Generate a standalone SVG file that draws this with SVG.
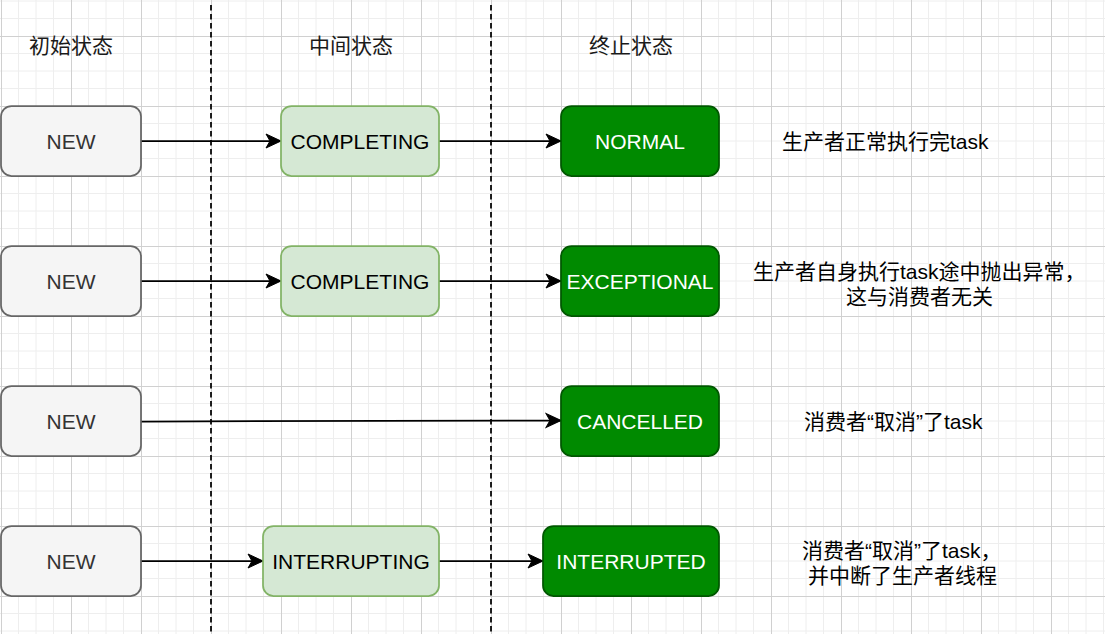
<svg xmlns="http://www.w3.org/2000/svg" width="1105" height="634" viewBox="0 0 1105 634">
  <style>
    text { font-family: "Liberation Sans", "Noto Sans CJK SC", sans-serif; font-size: 21px; }
    .new rect { fill: #f5f5f5; stroke: #666666; stroke-width: 1.75; }
    .new text { fill: #333333; text-anchor: middle; }
    .mid rect { fill: #d5e8d4; stroke: #82b366; stroke-width: 1.75; }
    .mid text { fill: #000000; text-anchor: middle; }
    .end rect { fill: #008a00; stroke: #005700; stroke-width: 1.75; }
    .end text { fill: #ffffff; text-anchor: middle; }
    .lbl { fill: #000000; }
    .hdr { fill: #1a1a1a; text-anchor: middle; }
    .edge { stroke: #000000; stroke-width: 1.75; fill: none; marker-end: url(#arrow); }
    .sep { stroke: #000000; stroke-width: 1.75; stroke-dasharray: 5.5 3.5; fill: none; }
  </style>
  <defs>
    <pattern id="grid" x="1" y="36" width="70" height="70" patternUnits="userSpaceOnUse">
      <path d="M17.5 0V70M35 0V70M52.5 0V70M0 17.5H70M0 35H70M0 52.5H70" stroke="#eeeeee" stroke-width="1" fill="none"/>
      <path d="M0.5 0V70M0 0.5H70" stroke="#d0d0d0" stroke-width="1" fill="none"/>
    </pattern>
    <marker id="arrow" markerUnits="userSpaceOnUse" markerWidth="20" markerHeight="20" refX="16" refY="8" orient="auto" viewBox="0 0 20 16">
      <path d="M16 8 L1 1 L5 8 L1 15 Z" fill="#000000" stroke="#000000" stroke-width="1"/>
    </marker>
  </defs>
  <rect x="0" y="0" width="1105" height="634" fill="#ffffff"/>
  <rect x="0" y="0" width="1105" height="634" fill="url(#grid)"/>

  <g id="separators">
    <line class="sep" x1="211" y1="5" x2="211" y2="634"/>
    <line class="sep" x1="491" y1="5" x2="491" y2="634"/>
  </g>

  <g id="headers">
    <text class="hdr" x="71" y="53">初始状态</text>
    <text class="hdr" x="351" y="53">中间状态</text>
    <text class="hdr" x="631" y="53">终止状态</text>
  </g>

  <g id="connectors">
    <line class="edge" x1="141" y1="141" x2="281" y2="141"/>
    <line class="edge" x1="439" y1="141" x2="561" y2="141"/>
    <line class="edge" x1="141" y1="281" x2="281" y2="281"/>
    <line class="edge" x1="439" y1="281" x2="561" y2="281"/>
    <line class="edge" x1="141" y1="421.5" x2="561" y2="420.5"/>
    <line class="edge" x1="141" y1="561" x2="263" y2="561"/>
    <line class="edge" x1="439" y1="561" x2="543" y2="561"/>
  </g>

  <g id="new1" class="new"><rect x="1" y="106" width="140" height="70" rx="10.5"/><text x="71" y="149">NEW</text></g>
  <g id="new2" class="new"><rect x="1" y="246" width="140" height="70" rx="10.5"/><text x="71" y="289">NEW</text></g>
  <g id="new3" class="new"><rect x="1" y="386" width="140" height="70" rx="10.5"/><text x="71" y="429">NEW</text></g>
  <g id="new4" class="new"><rect x="1" y="526" width="140" height="70" rx="10.5"/><text x="71" y="569">NEW</text></g>

  <g id="completing1" class="mid"><rect x="281" y="106" width="158" height="70" rx="10.5"/><text x="360" y="149">COMPLETING</text></g>
  <g id="completing2" class="mid"><rect x="281" y="246" width="158" height="70" rx="10.5"/><text x="360" y="289">COMPLETING</text></g>
  <g id="interrupting" class="mid"><rect x="263" y="526" width="176" height="70" rx="10.5"/><text x="351" y="569">INTERRUPTING</text></g>

  <g id="normal" class="end"><rect x="561" y="106" width="158" height="70" rx="10.5"/><text x="640" y="149">NORMAL</text></g>
  <g id="exceptional" class="end"><rect x="561" y="246" width="158" height="70" rx="10.5"/><text x="640" y="289">EXCEPTIONAL</text></g>
  <g id="cancelled" class="end"><rect x="561" y="386" width="158" height="70" rx="10.5"/><text x="640" y="429">CANCELLED</text></g>
  <g id="interrupted" class="end"><rect x="543" y="526" width="176" height="70" rx="10.5"/><text x="631" y="569">INTERRUPTED</text></g>

  <g id="descriptions">
    <text class="lbl" x="782" y="149">生产者正常执行完task</text>
    <text class="lbl" x="753" y="279">生产者自身执行task途中抛出异常，</text>
    <text class="lbl" x="846" y="304">这与消费者无关</text>
    <text class="lbl" x="804" y="429">消费者“取消”了task</text>
    <text class="lbl" x="802" y="558">消费者“取消”了task，</text>
    <text class="lbl" x="808" y="583">并中断了生产者线程</text>
  </g>
</svg>
